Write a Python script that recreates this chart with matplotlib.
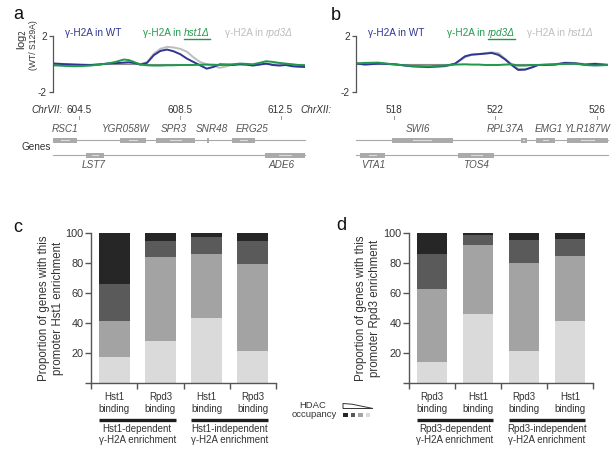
import matplotlib
matplotlib.use('Agg')
import matplotlib.pyplot as plt
from matplotlib.transforms import blended_transform_factory as btf
from matplotlib.patches import Rectangle, Polygon

plt.rcParams['font.family'] = ['Liberation Sans', 'DejaVu Sans']

# ---------------- data ----------------
# panel a: ChrVII coordinates (kb) and log2 ratios
a_x = [603.47, 603.9, 604.32, 604.65, 604.97, 605.3, 605.63, 605.95, 606.28, 606.48,
       606.68, 606.94, 607.2, 607.47, 607.73, 607.99, 608.25, 608.52, 608.78, 609.04,
       609.3, 609.57, 609.83, 610.09, 610.35, 610.62, 610.88, 611.14, 611.4, 611.66,
       611.93, 612.19, 612.45, 612.71, 612.97, 613.2, 613.47]
a_wt = [0.0, -0.04, -0.07, -0.09, -0.1, -0.06, 0.0, 0.03, 0.07, 0.09,
        0.05, -0.07, 0.05, 0.6, 0.9, 1.0, 0.88, 0.67, 0.36, 0.12,
        -0.12, -0.36, -0.24, -0.05, -0.07, -0.1, -0.05, -0.07, -0.14, -0.07,
        0.0, -0.1, -0.14, -0.1, -0.19, -0.22, -0.24]
a_rpd3 = [0.02, -0.02, -0.06, -0.08, -0.09, -0.06, 0.0, 0.03, 0.06, 0.08,
          0.05, -0.03, 0.1, 0.7, 1.05, 1.19, 1.15, 1.05, 0.85, 0.45,
          0.12, -0.05, -0.15, -0.3, -0.2, -0.05, -0.05, -0.08, -0.1, -0.05,
          0.0, -0.05, -0.05, -0.1, -0.12, -0.15, -0.18]
a_hst1 = [-0.12, -0.16, -0.19, -0.17, -0.14, -0.07, 0.0, 0.12, 0.29, 0.25,
          0.12, -0.07, -0.12, -0.14, -0.14, -0.12, -0.12, -0.1, -0.1, -0.1,
          -0.08, -0.07, -0.08, -0.1, -0.08, -0.05, 0.0, -0.02, -0.05, 0.05,
          0.17, 0.12, 0.05, 0.0, -0.05, -0.1, -0.12]
a_ticks = [604.5, 608.5, 612.5]
a_genes = ['RSC1', 'YGR058W', 'SPR3', 'SNR48', 'ERG25', 'LST7', 'ADE6']
a_gene_start = [603.47, 606.13, 607.56, 609.58, 610.57, 604.78, 611.88]
a_gene_end = [604.42, 607.16, 609.10, 609.66, 611.48, 605.49, 613.47]
a_gene_row = [0, 0, 0, 0, 0, 1, 1]
a_gene_label = [603.94, 606.35, 608.27, 609.78, 611.37, 605.10, 612.54]

# panel b: ChrXII
b_x = [516.53, 516.86, 517.38, 518.04, 518.7, 519.36, 520.01, 520.41, 520.8, 521.06,
       521.33, 521.59, 521.85, 522.12, 522.38, 522.64, 522.9, 523.17, 523.43, 523.69,
       523.96, 524.35, 524.74, 525.14, 525.53, 525.93, 526.44]
b_wt = [0.0, -0.07, 0.0, -0.05, -0.19, -0.24, -0.17, 0.0, 0.52, 0.64,
        0.67, 0.71, 0.76, 0.62, 0.3, -0.1, -0.45, -0.43, -0.28, -0.1,
        -0.1, -0.07, 0.05, 0.02, -0.07, -0.02, -0.1]
b_hst1 = [0.05, 0.05, 0.02, -0.05, -0.2, -0.26, -0.2, -0.02, 0.45, 0.62,
          0.68, 0.74, 0.8, 0.75, 0.35, -0.05, -0.38, -0.4, -0.25, -0.1,
          -0.08, -0.05, 0.07, 0.05, -0.04, 0.0, -0.06]
b_rpd3 = [0.0, 0.05, 0.07, -0.07, -0.17, -0.19, -0.14, -0.07, -0.05, -0.07,
          -0.07, -0.1, -0.1, -0.1, -0.07, -0.05, -0.14, -0.14, -0.1, -0.1,
          -0.07, -0.05, -0.02, 0.0, -0.1, -0.14, -0.1]
b_ticks = [518, 522, 526]
b_genes = ['SWI6', 'RPL37A', 'EMG1', 'YLR187W', 'VTA1', 'TOS4']
b_gene_start = [517.91, 522.99, 523.60, 524.81, 516.66, 520.51]
b_gene_end = [520.31, 523.23, 524.35, 526.44, 517.64, 521.96]
b_gene_row = [0, 0, 0, 0, 1, 1]
b_gene_label = [518.96, 522.38, 524.11, 525.63, 517.17, 521.22]

# panel c/d stacked proportions (bottom = lowest HDAC occupancy ... top = highest)
c_cats = ['Hst1\nbinding', 'Rpd3\nbinding', 'Hst1\nbinding', 'Rpd3\nbinding']
c_groups = ['Hst1-dependent\nγ-H2A enrichment', 'Hst1-independent\nγ-H2A enrichment']
c_q4 = [17, 28, 43, 21]
c_q3 = [24, 56, 43, 58]
c_q2 = [24.6, 10.5, 11.3, 15.5]
c_q1 = [34.4, 5.5, 2.7, 5.5]

d_cats = ['Rpd3\nbinding', 'Hst1\nbinding', 'Rpd3\nbinding', 'Hst1\nbinding']
d_groups = ['Rpd3-dependent\nγ-H2A enrichment', 'Rpd3-independent\nγ-H2A enrichment']
d_q4 = [14, 46, 21, 41.5]
d_q3 = [48.5, 46, 59, 43]
d_q2 = [23.7, 6.7, 15, 11.7]
d_q1 = [13.8, 1.3, 5, 3.8]

# ---------------- style ----------------
W, H = 615, 451
BLUE, GREEN, GRAY = '#2e3592', '#1f9a4c', '#bdbdbd'
SHADES = ['#262626', '#5a5a5a', '#a3a3a3', '#dadada']
AX = '#555555'
GENE = '#aaaaaa'

fig = plt.figure(figsize=(W / 100, H / 100), dpi=100)
ov = fig.add_axes([0, 0, 1, 1], zorder=5)
ov.set_xlim(0, W)
ov.set_ylim(H, 0)
ov.axis('off')
ov.patch.set_alpha(0)


def fax(l, t, r, b):
    return fig.add_axes([l / W, 1 - b / H, (r - l) / W, (b - t) / H])


renderer = fig.canvas.get_renderer()


def legend_item(x, y, normal, ital, color, underline):
    t = ov.text(x, y, normal, color=color, fontsize=7.2, va='baseline', ha='left')
    w = t.get_window_extent(renderer).width + 2.8
    t2 = ov.text(x + w, y, ital, color=color, fontsize=7.2, style='italic',
                 va='baseline', ha='left')
    if underline:
        w2 = t2.get_window_extent(renderer).width
        ov.plot([x + w, x + w + w2], [y + 3, y + 3], color=color, lw=1.0)


def line_panel(l, r, x, series, xlim, ticks, chrname, chr_right,
               genes, gstart, gend, grow, glab, legend):
    ax = fax(l, 35.5, r, 91.7)
    ax.set_xlim(*xlim)
    ax.set_ylim(-2, 2)
    ax.axhline(0, color='#8a8a8a', lw=0.8, zorder=1)
    for ys, col in series:
        ax.plot(x, ys, color=col, lw=1.4, zorder=2)
    for s in ['top', 'right', 'bottom']:
        ax.spines[s].set_visible(False)
    ax.spines['left'].set_color(AX)
    ax.spines['left'].set_linewidth(0.9)
    ax.set_xticks([])
    ax.set_yticks([2, -2])
    ax.set_yticklabels(['2', '-2'])
    ax.tick_params(axis='y', length=3, width=0.9, color=AX, pad=1.5,
                   labelsize=7.2, labelcolor='#333333')
    ax.patch.set_alpha(0)
    tr = btf(ax.transData, ov.transData)
    for tk in ticks:
        ov.text(tk, 113, ('%g' % tk), transform=tr, ha='center', va='baseline',
                fontsize=7.2, color='#333333')
        ov.plot([tk, tk], [116, 119], transform=tr, color='#999999', lw=0.7)
    ov.text(chr_right, 113, chrname, style='italic', ha='right', va='baseline',
            fontsize=7.2, color='#333333')
    rows_y = [140.3, 155.3]
    for ry in rows_y:
        ov.plot(xlim, [ry, ry], transform=tr, color='#a8a8a8', lw=0.8, zorder=1)
    for name, s, e, rw, lx in zip(genes, gstart, gend, grow, glab):
        ry = rows_y[rw]
        ov.add_patch(Rectangle((s, ry - 2.2), e - s, 4.4, transform=tr,
                               facecolor=GENE, edgecolor='none', zorder=2))
        c = (s + e) / 2
        wd = (e - s) * 0.15
        ov.plot([c - wd, c + wd], [ry, ry], transform=tr, color='#dcdcdc',
                lw=0.8, zorder=3)
        ly = 132.5 if rw == 0 else 168
        ov.text(lx, ly, name, transform=tr, ha='center', va='baseline',
                fontsize=7.2, style='italic', color='#555555')
    for (lx, normal, ital, col, ul) in legend:
        legend_item(lx, 36, normal, ital, col, ul)
    return ax


line_panel(53, 305, a_x, [(a_rpd3, GRAY), (a_wt, BLUE), (a_hst1, GREEN)],
           (603.47, 613.47), a_ticks, 'ChrVII:', 63,
           a_genes, a_gene_start, a_gene_end, a_gene_row, a_gene_label,
           [(65, 'γ-H2A in WT', '', BLUE, False),
            (143, 'γ-H2A in', 'hst1Δ', GREEN, True),
            (225, 'γ-H2A in', 'rpd3Δ', GRAY, False)])
line_panel(356, 608, b_x, [(b_hst1, GRAY), (b_wt, BLUE), (b_rpd3, GREEN)],
           (516.50, 526.44), b_ticks, 'ChrXII:', 332,
           b_genes, b_gene_start, b_gene_end, b_gene_row, b_gene_label,
           [(368, 'γ-H2A in WT', '', BLUE, False),
            (447, 'γ-H2A in', 'rpd3Δ', GREEN, True),
            (527, 'γ-H2A in', 'hst1Δ', GRAY, False)])

ov.text(22, 39, 'log$_2$', rotation=90, ha='center', va='center',
        fontsize=8, color='#333333')
ov.text(33, 45, '(WT/ S129A)', rotation=90, ha='center', va='center',
        fontsize=6.2, color='#333333')
ov.text(22, 150, 'Genes', fontsize=7.2, color='#333333', va='baseline', ha='left')


def bar_panel(l, r, cats, groups, q4, q3, q2, q1, ylabel, ylab_x):
    ax = fax(l, 233, r, 382.7)
    xs = list(range(len(cats)))
    bw = 0.67
    bottom = [0] * len(xs)
    for vals, col in zip([q4, q3, q2, q1], SHADES[::-1]):
        ax.bar(xs, vals, bw, bottom=bottom, color=col, edgecolor='none', zorder=2)
        bottom = [b + v for b, v in zip(bottom, vals)]
    ax.set_xlim(-0.5, len(xs) - 0.5)
    ax.set_ylim(0, 100)
    for s in ['top', 'right']:
        ax.spines[s].set_visible(False)
    for s in ['left', 'bottom']:
        ax.spines[s].set_color(AX)
        ax.spines[s].set_linewidth(1.0)
    ax.set_yticks([0, 20, 40, 60, 80, 100])
    ax.set_yticklabels(['', '20', '40', '60', '80', '100'])
    ax.set_xticks([x - 0.5 for x in xs] + [len(xs) - 0.5])
    ax.set_xticklabels([])
    ax.tick_params(length=4, width=1.0, color=AX, labelsize=7.8,
                   labelcolor='#333333', pad=1.5)
    ax.patch.set_alpha(0)
    tr = btf(ax.transData, ov.transData)
    for x, c in zip(xs, cats):
        ov.text(x, 403, c, transform=tr, ha='center', va='center', fontsize=7,
                color='#333333', linespacing=1.15)
    for gi, g in enumerate(groups):
        x0 = 2 * gi - bw / 2
        x1 = 2 * gi + 1 + bw / 2
        ov.plot([x0, x1], [420, 420], transform=tr, color='#1e1e1e', lw=2.4,
                solid_capstyle='butt')
        ov.text(2 * gi + 0.5, 434.5, g, transform=tr, ha='center', va='center',
                fontsize=7, color='#333333', linespacing=1.15)
    ov.text(ylab_x, 308, ylabel, rotation=90, ha='center', va='center',
            fontsize=8.3, color='#333333', linespacing=1.15)
    return ax


bar_panel(91, 276, c_cats, c_groups, c_q4, c_q3, c_q2, c_q1,
          'Proportion of genes with this\npromoter Hst1 enrichment', 51)
bar_panel(409, 593, d_cats, d_groups, d_q4, d_q3, d_q2, d_q1,
          'Proportion of genes with this\npromoter Rpd3 enrichment', 368)

# HDAC occupancy key
ov.text(313, 405, 'HDAC', ha='center', va='center', fontsize=6.8, color='#333333')
ov.text(314, 414.5, 'occupancy', ha='center', va='center', fontsize=6.8, color='#333333')
ov.add_patch(Polygon([(343, 403.5), (352, 404.2), (373, 408.5), (343, 408.5)],
                     closed=True, facecolor='white', edgecolor='#333333', lw=0.7))
for i, col in enumerate(SHADES):
    ov.add_patch(Rectangle((343 + i * 7.5, 412.8), 4.8, 4.6, facecolor=col,
                           edgecolor='none'))

# panel letters
for lt, x, y in [('a', 13, 19), ('b', 331, 20), ('c', 13, 232), ('d', 336, 230)]:
    ov.text(x, y, lt, fontsize=13, ha='left', va='baseline', color='#111111')

fig.savefig('out.png', dpi=100)
